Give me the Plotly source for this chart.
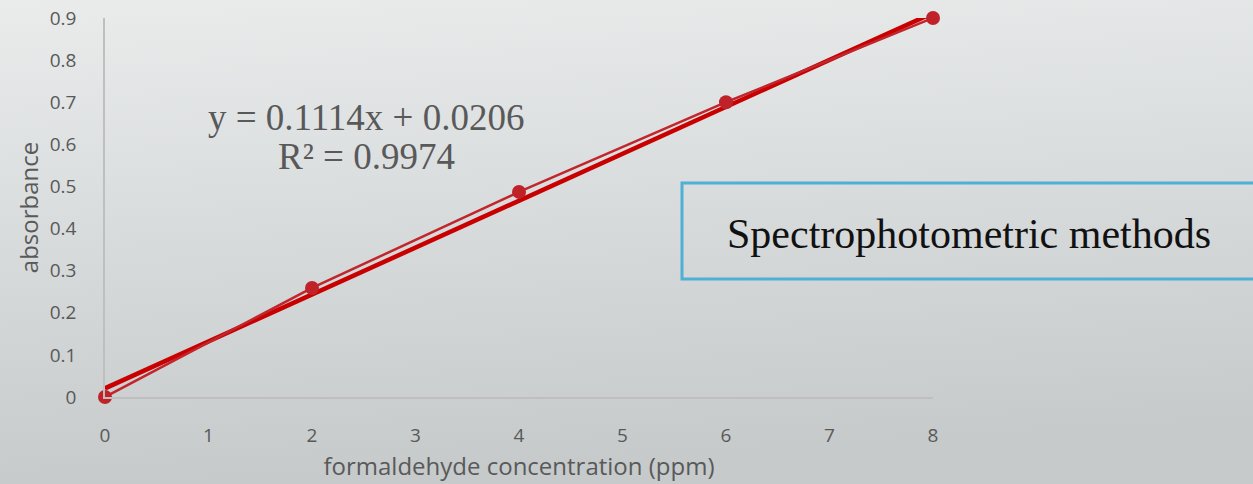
import base64
import plotly.graph_objects as go

# Data
concentration = [0, 2, 4, 6, 8]
absorbance = [0.0, 0.259, 0.487, 0.700, 0.900]
slope = 0.1114
intercept = 0.0206
r_squared = 0.9974
x_ticks = [0, 1, 2, 3, 4, 5, 6, 7, 8]
y_ticks = [0, 0.1, 0.2, 0.3, 0.4, 0.5, 0.6, 0.7, 0.8, 0.9]
y_tick_labels = ["0", "0.1", "0.2", "0.3", "0.4", "0.5", "0.6", "0.7", "0.8", "0.9"]

W, H = 1253, 484
ML, MR, MT, MB = 105, 320, 18, 87
pw, ph = W - ML - MR, H - MT - MB

trend_x = [concentration[0], concentration[-1]]
trend_y = [slope * x + intercept for x in trend_x]

fig = go.Figure()
fig.add_trace(go.Scatter(x=trend_x, y=trend_y, mode="lines",
                         line=dict(color="#C80000", width=4.5), hoverinfo="skip",
                         showlegend=False, cliponaxis=False))
fig.add_trace(go.Scatter(x=concentration, y=absorbance, mode="lines+markers",
                         line=dict(color="#C0262C", width=2.5),
                         marker=dict(color="#C0222A", size=14),
                         showlegend=False, cliponaxis=False))

# gradient background as svg image
svg = f'''<svg xmlns="http://www.w3.org/2000/svg" width="{W}" height="{H}" viewBox="0 0 {W} {H}" preserveAspectRatio="none">
<defs><linearGradient id="g" x1="0" y1="0" x2="0.15" y2="1">
<stop offset="0" stop-color="#eaecec"/><stop offset="1" stop-color="#c6cacb"/></linearGradient></defs>
<rect width="{W}" height="{H}" fill="url(#g)"/></svg>'''
src = "data:image/svg+xml;base64," + base64.b64encode(svg.encode()).decode()

fig.add_layout_image(dict(source=src, xref="paper", yref="paper",
                          x=-ML / pw, y=1 + MT / ph, sizex=W / pw, sizey=H / ph,
                          sizing="stretch", layer="below", xanchor="left", yanchor="top"))

sans = "Open Sans, Noto Sans, sans-serif"
axis_font = dict(family=sans, size=19, color="#595959")
fig.update_xaxes(range=[0, 8], tickvals=x_ticks, showgrid=False, zeroline=False,
                 showline=True, linecolor="#bfbfbf", linewidth=1.5, ticks="",
                 tickfont=axis_font, ticklabelstandoff=20, automargin=False,
                 title=dict(text="formaldehyde concentration (ppm)", standoff=12,
                            font=dict(family=sans, size=24, color="#595959")))
fig.update_yaxes(range=[0, 0.9], tickvals=y_ticks, ticktext=y_tick_labels, showgrid=False,
                 zeroline=False, showline=True, linecolor="#bfbfbf", linewidth=1.5, ticks="",
                 tickfont=axis_font, ticklabelstandoff=23, automargin=False,
                 title=dict(text="absorbance", standoff=4,
                            font=dict(family=sans, size=24, color="#595959")))

serif = "Liberation Serif, Times New Roman, serif"
fig.add_annotation(x=(366 - ML) / pw, y=1 - (117 - MT) / ph, xref="paper", yref="paper",
                   xanchor="center", yanchor="middle",
                   text=f"y = {slope}x + {intercept}", showarrow=False,
                   font=dict(family=serif, size=37, color="#595959"))
fig.add_annotation(x=(366 - ML) / pw, y=1 - (157 - MT) / ph, xref="paper", yref="paper",
                   xanchor="center", yanchor="middle",
                   text=f"R² = {r_squared}", showarrow=False,
                   font=dict(family=serif, size=37, color="#595959"))

fig.add_shape(type="rect", xref="paper", yref="paper",
              x0=(682 - ML) / pw, x1=(1256 - ML) / pw,
              y0=1 - (279 - MT) / ph, y1=1 - (183 - MT) / ph,
              line=dict(color="#4FB0D6", width=3), fillcolor="rgba(0,0,0,0)")
fig.add_annotation(x=(969 - ML) / pw, y=1 - (234 - MT) / ph, xref="paper", yref="paper",
                   xanchor="center", yanchor="middle",
                   text="Spectrophotometric methods", showarrow=False,
                   font=dict(family=serif, size=42, color="#111111"))

fig.update_layout(width=W, height=H, margin=dict(l=ML, r=MR, t=MT, b=MB, autoexpand=False),
                  paper_bgcolor="#d8dbdc", plot_bgcolor="rgba(0,0,0,0)")

fig.write_html("out.html", config={"displayModeBar": False},
               post_script="document.body.style.margin='0';document.body.style.overflow='hidden';")
